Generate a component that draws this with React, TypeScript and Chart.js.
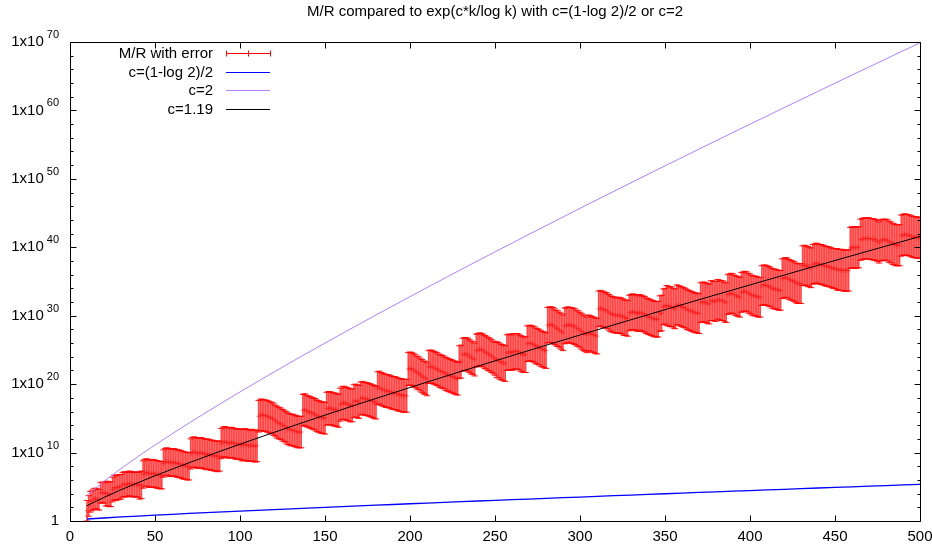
import React, { useEffect, useRef } from 'react';
import { Chart, registerables } from 'chart.js';

Chart.register(...registerables);

const FONT = '"Liberation Sans", Arial, Helvetica, sans-serif';
const TITLE = 'M/R compared to exp(c*k/log k) with c=(1-log 2)/2 or c=2';

// sampled curves (x = k, values are log10 of the curve)
const curveK = [10,20,30,40,50,60,70,80,90,100,110,120,130,140,150,160,170,180,190,200,210,220,230,240,250,260,270,280,290,300,310,320,330,340,350,360,370,380,390,400,410,420,430,440,450,460,470,480,490,500];
const lowCLog10 = [0.29,0.44,0.59,0.72,0.85,0.98,1.10,1.22,1.33,1.45,1.56,1.67,1.78,1.89,1.99,2.10,2.21,2.31,2.41,2.52,2.62,2.72,2.82,2.92,3.02,3.12,3.21,3.31,3.41,3.50,3.60,3.70,3.79,3.89,3.98,4.08,4.17,4.26,4.36,4.45,4.54,4.63,4.72,4.82,4.91,5.00,5.09,5.18,5.27,5.36];
const highCLog10 = [3.77,5.80,7.66,9.42,11.10,12.73,14.31,15.86,17.37,18.86,20.33,21.77,23.20,24.61,26.00,27.38,28.75,30.11,31.45,32.79,34.11,35.43,36.74,38.04,39.33,40.61,41.89,43.16,44.43,45.69,46.94,48.19,49.43,50.66,51.90,53.12,54.35,55.56,56.78,57.99,59.19,60.40,61.59,62.79,63.98,65.17,66.35,67.53,68.71,69.88];
const fitCLog10 = [2.24,3.45,4.56,5.60,6.61,7.57,8.51,9.43,10.34,11.22,12.09,12.95,13.80,14.64,15.47,16.29,17.11,17.91,18.71,19.51,20.30,21.08,21.86,22.63,23.40,24.16,24.92,25.68,26.43,27.18,27.93,28.67,29.41,30.14,30.88,31.61,32.34,33.06,33.78,34.50,35.22,35.93,36.65,37.36,38.07,38.77,39.48,40.18,40.88,41.58];

// M/R measurements: k = 10, 11, ..., 500 ; centre values as log10
const mrFirstK = 10;
const mrStepK = 1;
const mrLog10 = [
  1.5,2.2,2.8,3.0,3.2,3.3,3.2,3.1,4.1,4.2,
  4.1,4.0,4.0,3.9,3.9,4.6,4.9,4.8,4.9,5.0,
  5.0,5.3,5.4,5.3,5.4,5.5,5.4,5.3,5.4,5.3,
  5.3,5.2,5.3,6.8,7.0,7.1,7.0,6.9,6.9,7.0,
  6.9,6.8,6.8,6.7,6.7,8.4,8.6,8.7,8.6,8.5,
  8.5,8.6,8.5,8.4,8.4,8.3,8.2,8.1,8.1,8.0,
  8.0,9.8,10.0,10.1,10.0,9.9,9.9,10.0,9.9,9.8,
  9.7,9.8,9.7,9.6,9.6,9.5,9.5,9.4,9.5,11.3,
  11.5,11.6,11.5,11.4,11.4,11.5,11.4,11.3,11.2,11.3,
  11.2,11.1,11.1,11.2,11.1,11.0,11.0,11.1,11.0,10.9,
  11.0,15.3,15.5,15.5,15.4,15.4,15.3,15.2,15.1,15.0,
  14.8,14.6,14.4,14.3,14.2,14.0,13.9,13.7,13.5,13.4,
  13.3,13.3,13.2,13.1,13.0,13.0,13.0,16.2,16.3,16.1,
  16.0,15.9,15.8,15.7,15.6,15.4,15.3,15.2,15.1,15.1,
  15.0,16.4,16.5,16.5,16.4,16.3,16.3,16.2,16.1,17.0,
  17.2,17.3,17.2,17.1,17.0,16.9,16.9,17.5,17.6,17.5,
  17.4,17.9,18.0,17.9,17.8,17.8,17.7,17.6,17.5,17.4,
  17.3,19.4,19.5,19.3,19.2,19.1,19.0,19.0,18.9,18.8,
  18.7,18.7,18.6,18.5,18.4,18.4,18.3,18.3,18.3,22.2,
  22.3,22.2,22.1,21.9,21.7,21.6,21.4,21.2,21.0,20.9,
  20.7,22.5,22.6,22.5,22.4,22.3,22.2,22.0,21.9,21.8,
  21.7,21.5,21.4,21.3,21.2,21.1,21.0,20.9,20.8,23.2,
  23.3,24.3,24.4,24.4,24.3,24.1,23.9,23.8,23.6,24.9,
  25.0,25.1,25.0,24.9,24.7,24.6,24.4,24.3,24.1,23.9,
  23.7,23.6,23.5,23.3,23.2,23.1,23.0,24.6,24.7,24.7,
  24.6,24.8,24.8,24.8,24.7,24.5,24.4,24.3,24.3,25.9,
  26.0,26.0,25.9,25.8,25.6,25.5,25.4,25.2,25.1,25.0,
  24.9,28.6,28.7,28.7,28.6,28.4,28.2,28.1,27.9,27.7,
  27.5,28.5,28.6,28.7,28.6,28.6,28.5,28.4,28.2,28.1,
  27.9,27.7,27.5,27.4,27.2,27.5,27.4,27.3,27.2,27.1,
  27.0,31.0,31.1,31.0,30.9,30.8,30.7,30.5,30.3,30.2,
  30.1,30.1,30.0,30.1,30.0,29.9,29.7,29.7,29.6,30.4,
  30.5,30.6,30.5,30.4,30.3,30.5,30.4,30.3,30.2,30.0,
  29.9,29.8,29.7,29.6,29.5,29.5,29.5,30.3,30.4,31.3,
  31.4,31.5,31.4,31.3,31.3,31.1,31.0,31.6,31.5,31.4,
  31.3,31.2,31.1,30.9,30.8,30.7,30.6,30.5,30.4,30.4,
  30.3,31.9,32.0,32.0,31.9,31.8,31.7,32.2,32.2,32.1,
  32.1,32.4,32.3,32.2,32.2,32.0,31.9,33.1,33.2,33.3,
  33.2,33.0,32.9,32.8,32.7,33.4,33.5,33.6,33.5,33.3,
  33.2,33.0,32.9,32.9,32.8,32.7,32.7,34.4,34.5,34.5,
  34.4,34.3,34.2,34.0,33.9,33.9,33.8,33.7,33.7,35.4,
  35.5,35.6,35.5,35.3,35.2,35.1,35.0,34.8,34.7,34.7,
  34.7,37.3,37.4,37.3,37.2,37.1,37.0,37.5,37.6,37.7,
  37.6,37.5,37.5,37.4,37.3,37.2,37.2,37.1,37.0,36.9,
  36.9,36.8,36.7,36.7,36.7,36.6,36.6,36.6,36.6,39.9,
  40.0,40.0,39.9,40.0,40.0,41.1,41.2,41.3,41.3,41.3,
  41.3,41.2,41.2,41.1,41.1,40.9,40.7,41.0,41.1,41.1,
  41.1,41.0,40.8,40.7,40.5,40.4,40.3,40.3,40.3,41.7,
  41.8,41.9,41.8,41.8,41.7,41.6,41.5,41.5,41.4,41.4,
  41.4
];
// half length of the error bars (decades), per range of k (upper bound of each range)
const mrErrRangeEndK = [20, 40, 70, 100, 150, 250, 350, 450, 500];
const mrErrHalfLog10 = [1.5, 1.8, 2.0, 2.2, 2.3, 2.4, 2.6, 2.9, 3.0];

const xTickValues = [0, 50, 100, 150, 200, 250, 300, 350, 400, 450, 500];
const yMajorExp = [0, 10, 20, 30, 40, 50, 60, 70];
const yMinorExp = [2,4,6,8,12,14,16,18,22,24,26,28,32,34,36,38,42,44,46,48,52,54,56,58,62,64,66,68];

const legendLabels = ['M/R with error', 'c=(1-log 2)/2', 'c=2', 'c=1.19'];
const RED = '#ff0000';
const BLUE = '#0000ff';
const PURPLE = '#b080ff';
const BLACK = '#000000';
const legendColors = [RED, BLUE, PURPLE, BLACK];

const pow10 = (e: number) => Math.pow(10, e);

const decorPlugin = {
  id: 'gnuplotDecor',
  afterDatasetsDraw(chart: any) {
    const { ctx, chartArea: a, scales } = chart;
    const xs = scales.x;
    const ys = scales.y;
    ctx.save();
    ctx.strokeStyle = '#000';
    ctx.lineWidth = 1;
    const L = Math.round(a.left) + 0.5;
    const R = Math.round(a.right) + 0.5;
    const T = Math.round(a.top) + 0.5;
    const B = Math.round(a.bottom) + 0.5;
    ctx.beginPath();
    ctx.rect(L, T, R - L, B - T);
    for (const v of xTickValues) {
      const px = Math.round(xs.getPixelForValue(v)) + 0.5;
      ctx.moveTo(px, B); ctx.lineTo(px, B - 6);
      ctx.moveTo(px, T); ctx.lineTo(px, T + 6);
    }
    for (const e of yMajorExp) {
      const py = Math.round(ys.getPixelForValue(pow10(e))) + 0.5;
      ctx.moveTo(L, py); ctx.lineTo(L + 6, py);
      ctx.moveTo(R, py); ctx.lineTo(R - 6, py);
    }
    for (const e of yMinorExp) {
      const py = Math.round(ys.getPixelForValue(pow10(e))) + 0.5;
      ctx.moveTo(L, py); ctx.lineTo(L + 3, py);
      ctx.moveTo(R, py); ctx.lineTo(R - 3, py);
    }
    ctx.stroke();

    // y tick labels 1x10^n
    ctx.fillStyle = '#000';
    ctx.textBaseline = 'middle';
    ctx.textAlign = 'right';
    const labelRight = a.left - 11;
    for (const e of yMajorExp) {
      const py = ys.getPixelForValue(pow10(e));
      if (e === 0) {
        ctx.font = `15px ${FONT}`;
        ctx.fillText('1', labelRight, py);
      } else {
        ctx.font = `11px ${FONT}`;
        const s = String(e);
        const w = ctx.measureText(s).width;
        ctx.fillText(s, labelRight, py - 7);
        ctx.font = `15px ${FONT}`;
        ctx.fillText('1x10', labelRight - w - 3, py);
      }
    }

    // title
    ctx.font = `15px ${FONT}`;
    ctx.textAlign = 'center';
    ctx.textBaseline = 'alphabetic';
    ctx.fillText(TITLE, (a.left + a.right) / 2, 16);

    // key
    ctx.textAlign = 'right';
    ctx.textBaseline = 'middle';
    legendLabels.forEach((t, i) => {
      const yy = Math.round(a.top + 11 + i * 18.5) + 0.5;
      ctx.fillStyle = '#000';
      ctx.fillText(t, a.left + 143, yy);
      ctx.strokeStyle = legendColors[i];
      ctx.lineWidth = 1;
      ctx.beginPath();
      ctx.moveTo(a.left + 156, yy);
      ctx.lineTo(a.left + 200, yy);
      if (i === 0) {
        for (const dx of [156, 178, 200]) {
          const px = Math.round(a.left + dx) + 0.5;
          ctx.moveTo(px, yy - 3);
          ctx.lineTo(px, yy + 3);
        }
      }
      ctx.stroke();
    });
    ctx.restore();
  },
};

export default function App() {
  const canvasRef = useRef<HTMLCanvasElement | null>(null);

  useEffect(() => {
    if (!canvasRef.current) return;
    const mrK = mrLog10.map((_, i) => mrFirstK + i * mrStepK);
    const halfAt = (k: number) => {
      const idx = mrErrRangeEndK.findIndex((u) => k <= u);
      return mrErrHalfLog10[idx < 0 ? mrErrHalfLog10.length - 1 : idx];
    };
    const lows = mrLog10.map((c, i) => pow10(c - halfAt(mrK[i])));
    const highs = mrLog10.map((c, i) => pow10(c + halfAt(mrK[i])));

    const curve = (arr: number[]) => curveK.map((k, i) => ({ x: k, y: pow10(arr[i]) }));
    const capColor = 'rgba(255,0,0,0.9)';

    const chart = new Chart(canvasRef.current, {
      type: 'line',
      data: {
        datasets: [
          {
            type: 'line', label: 'c=1.19', data: curve(fitCLog10), borderColor: BLACK, borderWidth: 1,
            pointRadius: 0, tension: 0, order: 0,
          },
          {
            type: 'line', label: 'c=2', data: curve(highCLog10), borderColor: PURPLE, borderWidth: 1,
            pointRadius: 0, tension: 0, order: 0,
          },
          {
            type: 'line', label: 'c=(1-log 2)/2', data: curve(lowCLog10), borderColor: BLUE, borderWidth: 1.3,
            pointRadius: 0, tension: 0, order: 0,
          },
          {
            type: 'line', label: 'caps high', data: mrK.map((k, i) => ({ x: k, y: highs[i] })), showLine: false,
            pointStyle: 'line', pointRadius: 3.2, pointBorderColor: capColor, pointBorderWidth: 1, borderColor: capColor, order: 1,
          },
          {
            type: 'line', label: 'caps low', data: mrK.map((k, i) => ({ x: k, y: lows[i] })), showLine: false,
            pointStyle: 'line', pointRadius: 3.2, pointBorderColor: capColor, pointBorderWidth: 1, borderColor: capColor, order: 1,
          },
          {
            type: 'line', label: 'M/R', data: mrK.map((k, i) => ({ x: k, y: pow10(mrLog10[i]) })), showLine: false,
            pointStyle: 'cross', pointRadius: 2.5, pointBorderColor: 'rgba(255,0,0,0.4)', pointBorderWidth: 1,
            borderColor: 'rgba(255,0,0,0.4)', order: 1,
          },
          {
            type: 'bar', label: 'M/R with error', data: mrK.map((k, i) => ({ x: k, y: [lows[i], highs[i]] })) as any,
            backgroundColor: 'rgba(255,0,0,0.72)', borderWidth: 0, barThickness: 1, order: 2,
          },
        ] as any,
      },
      options: {
        responsive: false,
        animation: false,
        events: [],
        layout: { padding: { left: 0, right: 12, top: 42, bottom: 0 } },
        plugins: {
          legend: { display: false },
          tooltip: { enabled: false },
          title: { display: false },
        },
        scales: {
          x: {
            type: 'linear', min: 0, max: 500, offset: false,
            grid: { display: false, drawTicks: false },
            border: { display: false },
            ticks: { font: { family: FONT, size: 15 }, color: '#000', padding: 7, maxRotation: 0, autoSkip: false },
            afterBuildTicks: (s: any) => { s.ticks = xTickValues.map((v) => ({ value: v })); },
            afterFit: (s: any) => { s.height = 29; s.paddingLeft = 0; s.paddingRight = 0; },
          },
          y: {
            type: 'logarithmic', min: 1, max: 1e70,
            grid: { display: false, drawTicks: false },
            border: { display: false },
            ticks: { display: false },
            afterBuildTicks: (s: any) => { s.ticks = yMajorExp.map((e) => ({ value: pow10(e) })); },
            afterFit: (s: any) => { s.width = 70; s.paddingTop = 0; s.paddingBottom = 0; },
          },
        },
      } as any,
      plugins: [decorPlugin],
    });
    return () => chart.destroy();
  }, []);

  return (
    <div style={{ position: 'fixed', left: 0, top: 0, width: 932, height: 550, background: '#fff' }}>
      <canvas ref={canvasRef} width={932} height={550} style={{ display: 'block', width: 932, height: 550 }} />
    </div>
  );
}
